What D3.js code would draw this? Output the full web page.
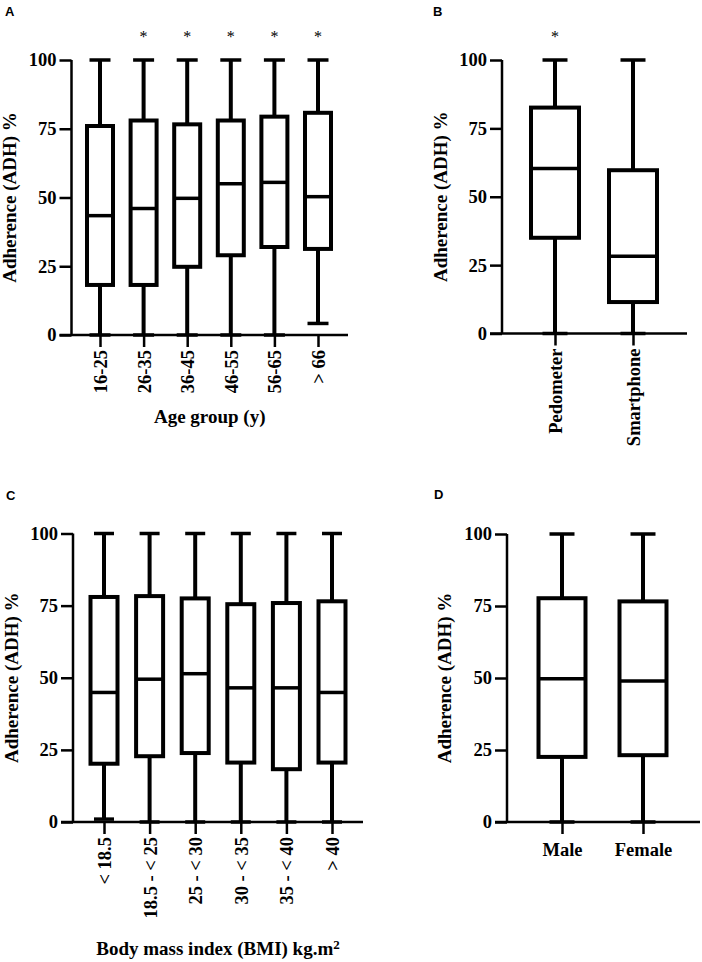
<!DOCTYPE html>
<html>
<head>
<meta charset="utf-8">
<script src="https://cdn.jsdelivr.net/npm/d3@7"></script>
<style>
  body { margin: 0; background: #fff; }
</style>
</head>
<body>
<script>
// ---- data ----
var yTicks = [0, 25, 50, 75, 100];

var ageGroups = ["16-25", "26-35", "36-45", "46-55", "56-65", "> 66"];
var ageMin = [0, 0, 0, 0, 0, 4.2];
var ageQ1  = [18.2, 18.2, 24.8, 29, 32, 31.3];
var ageMed = [43.4, 46, 49.7, 55, 55.5, 50.3];
var ageQ3  = [76, 78, 76.6, 78, 79.4, 80.8];
var ageMax = [100, 100, 100, 100, 100, 100];
var ageStar = ["", "*", "*", "*", "*", "*"];

var devices = ["Pedometer", "Smartphone"];
var devMin = [0, 0];
var devQ1  = [35, 11.5];
var devMed = [60.3, 28.2];
var devQ3  = [82.6, 59.7];
var devMax = [100, 100];
var devStar = ["*", ""];

var bmiGroups = ["< 18.5", "18.5 - < 25", "25 - < 30", "30 - < 35", "35 - < 40", "> 40"];
var bmiMin = [1, 0, 0, 0, 0, 0];
var bmiQ1  = [20.2, 22.8, 23.9, 20.6, 18.3, 20.6];
var bmiMed = [44.9, 49.5, 51.4, 46.5, 46.5, 44.9];
var bmiQ3  = [78, 78.3, 77.5, 75.5, 75.9, 76.5];
var bmiMax = [100, 100, 100, 100, 100, 100];

var sexes = ["Male", "Female"];
var sexMin = [0, 0];
var sexQ1  = [22.6, 23.2];
var sexMed = [49.7, 49];
var sexQ3  = [77.7, 76.6];
var sexMax = [100, 100];

var yTitle = "Adherence (ADH) %";

var SERIF = "'Liberation Serif', 'Times New Roman', serif";
var SANS = "'Liberation Sans', Arial, sans-serif";

var svg = d3.select("body").append("svg")
    .attr("width", 702)
    .attr("height", 962);

function zip(cats, mn, q1, md, q3, mx, star) {
    return cats.map(function(c, i) {
        return {cat: c, min: mn[i], q1: q1[i], med: md[i], q3: q3[i], max: mx[i], star: star ? star[i] : ""};
    });
}

function serifText(sel, size) {
    return sel.style("font-family", SERIF)
              .style("font-weight", "bold")
              .style("font-size", size + "px")
              .attr("fill", "#000");
}

function drawPanel(p) {
    var y = d3.scaleLinear().domain([0, 100]).range([p.y0, p.y1]);
    var x = d3.scalePoint().domain(p.data.map(function(d) { return d.cat; })).range([p.c0, p.c1]);
    var g = svg.append("g");

    // boxes
    var box = g.selectAll("g.box").data(p.data).enter().append("g").attr("class", "box");
    box.append("line")
        .attr("x1", function(d) { return x(d.cat); })
        .attr("x2", function(d) { return x(d.cat); })
        .attr("y1", function(d) { return y(d.min); })
        .attr("y2", function(d) { return y(d.max); })
        .attr("stroke", "#000").attr("stroke-width", 4);
    ["min", "max"].forEach(function(k) {
        box.append("line")
            .attr("x1", function(d) { return x(d.cat) - p.cap / 2; })
            .attr("x2", function(d) { return x(d.cat) + p.cap / 2; })
            .attr("y1", function(d) { return y(d[k]); })
            .attr("y2", function(d) { return y(d[k]); })
            .attr("stroke", "#000").attr("stroke-width", 3.5);
    });
    box.append("rect")
        .attr("x", function(d) { return x(d.cat) - p.bw / 2; })
        .attr("width", p.bw)
        .attr("y", function(d) { return y(d.q3); })
        .attr("height", function(d) { return y(d.q1) - y(d.q3); })
        .attr("fill", "#fff").attr("stroke", "#000").attr("stroke-width", 4);
    box.append("line")
        .attr("x1", function(d) { return x(d.cat) - p.bw / 2; })
        .attr("x2", function(d) { return x(d.cat) + p.bw / 2; })
        .attr("y1", function(d) { return y(d.med); })
        .attr("y2", function(d) { return y(d.med); })
        .attr("stroke", "#000").attr("stroke-width", 3.5);
    serifText(box.append("text"), 16)
        .attr("x", function(d) { return x(d.cat); })
        .attr("y", p.y1 - 18)
        .attr("text-anchor", "middle")
        .style("font-weight", "normal")
        .text(function(d) { return d.star; });

    // y axis
    var ya = g.append("g")
        .attr("transform", "translate(" + p.ax + ",0)")
        .call(d3.axisLeft(y).tickValues(yTicks).tickSize(12).tickPadding(3));
    ya.select(".domain").attr("d", "M0," + p.y0 + "V" + p.y1).attr("stroke-width", 2.5).attr("stroke", "#000");
    ya.selectAll(".tick line").attr("stroke-width", 2.5).attr("stroke", "#000");
    serifText(ya.selectAll(".tick text"), 18.5);

    // x axis
    var xa = g.append("g")
        .attr("transform", "translate(0," + p.y0 + ")")
        .call(d3.axisBottom(x).tickSize(12).tickPadding(4));
    xa.select(".domain").attr("d", "M" + (p.ax - 12) + ",0H" + p.xr).attr("stroke-width", 2.5).attr("stroke", "#000");
    xa.selectAll(".tick line").attr("stroke-width", 2.5).attr("stroke", "#000");
    var xt = serifText(xa.selectAll(".tick text"), 18.5);
    if (p.rotate) {
        xt.attr("transform", "rotate(-90)")
          .attr("text-anchor", "end")
          .attr("x", -15).attr("y", 0).attr("dy", "0.35em");
    } else {
        xt.attr("y", 21).attr("dy", "0.71em");
    }

    // y title
    serifText(g.append("text"), 19)
        .attr("transform", "translate(" + p.yt + "," + ((p.y0 + p.y1) / 2) + ") rotate(-90)")
        .attr("text-anchor", "middle")
        .text(yTitle);

    // x title
    if (p.xTitle) {
        var t = serifText(g.append("text"), 19)
            .attr("x", (p.ax + p.xr) / 2)
            .attr("y", p.xtY)
            .attr("text-anchor", "middle")
            .text(p.xTitle);
        if (p.sup) {
            t.append("tspan").attr("dy", "-0.45em").style("font-size", "13px").text(p.sup);
        }
    }

    // panel letter
    g.append("text")
        .style("font-family", SANS).style("font-weight", "bold").style("font-size", "13px")
        .attr("x", p.lx).attr("y", p.ly)
        .text(p.letter);
}

drawPanel({
    letter: "A", lx: 5, ly: 16,
    data: zip(ageGroups, ageMin, ageQ1, ageMed, ageQ3, ageMax, ageStar),
    ax: 71.5, xr: 348, y0: 335, y1: 60, c0: 100, c1: 318, bw: 26, cap: 21,
    rotate: true, yt: 16, xTitle: "Age group (y)", xtY: 423
});

drawPanel({
    letter: "B", lx: 433, ly: 16,
    data: zip(devices, devMin, devQ1, devMed, devQ3, devMax, devStar),
    ax: 502, xr: 687, y0: 333.5, y1: 60, c0: 555, c1: 633, bw: 48, cap: 25,
    rotate: true, yt: 447
});

drawPanel({
    letter: "C", lx: 6, ly: 500,
    data: zip(bmiGroups, bmiMin, bmiQ1, bmiMed, bmiQ3, bmiMax),
    ax: 73, xr: 363, y0: 822, y1: 533.5, c0: 104, c1: 332, bw: 27, cap: 20,
    rotate: true, yt: 18, xTitle: "Body mass index (BMI) kg.m", sup: "2", xtY: 955
});

drawPanel({
    letter: "D", lx: 434, ly: 499,
    data: zip(sexes, sexMin, sexQ1, sexMed, sexQ3, sexMax),
    ax: 507, xr: 700, y0: 822, y1: 534, c0: 562, c1: 643, bw: 47, cap: 25,
    rotate: false, yt: 451
});
</script>
</body>
</html>
